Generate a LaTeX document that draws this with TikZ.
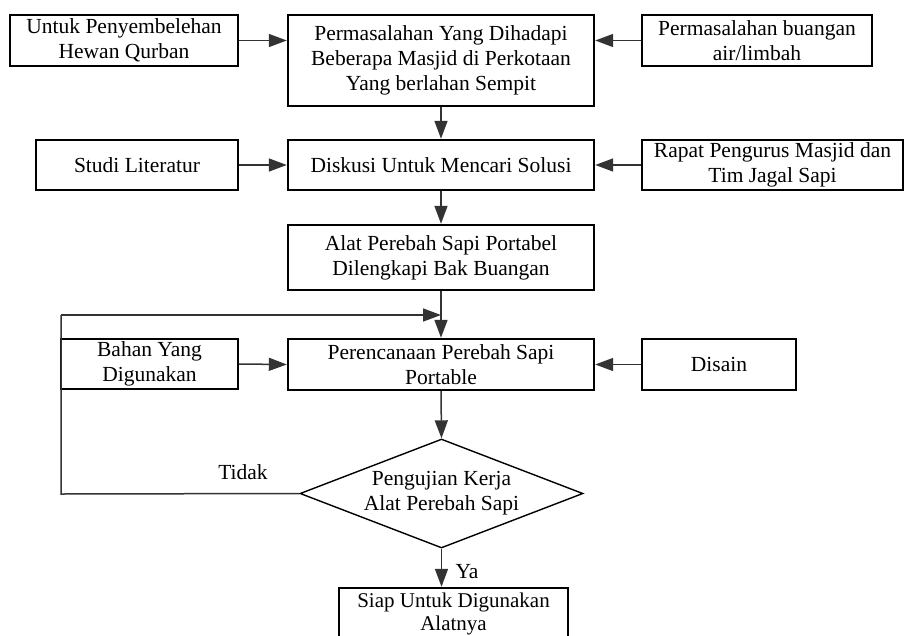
\documentclass[tikz,border=0pt]{standalone}
\usepackage{fontspec}
\setmainfont{Liberation Serif}
\usetikzlibrary{shapes.geometric,arrows.meta}
\begin{document}
\begin{tikzpicture}[x=1pt,y=-1pt,
  every node/.style={font=\fontsize{21.5}{25}\selectfont, align=center, inner sep=0pt},
  thinbox/.style={draw, line width=1.4pt, rectangle},
  thickbox/.style={draw, line width=2.4pt, rectangle},
  conn/.style={draw=black!80, line width=1.5pt, -{Triangle[length=18pt,width=13pt]}},
  plain/.style={draw=black!80, line width=1.5pt}]
\useasboundingbox (0,0) rectangle (905,635);
\node[thinbox, minimum width=228pt, minimum height=51pt] (a) at (124,40.5) {Untuk Penyembelehan\\Hewan Qurban};
\node[thickbox, minimum width=306pt, minimum height=91pt] (p1) at (441,60.5) {Permasalahan Yang Dihadapi\\Beberapa Masjid di Perkotaan\\Yang berlahan Sempit};
\node[thinbox, line width=2pt, minimum width=230pt, minimum height=51pt] (r1) at (757,40.5) {Permasalahan buangan\\air/limbah};
\node[thinbox, minimum width=202pt, minimum height=50pt] (s) at (137,165) {Studi Literatur};
\node[thickbox, minimum width=306pt, minimum height=50pt] (d) at (441,165) {Diskusi Untuk Mencari Solusi};
\node[thinbox, line width=2pt, minimum width=261pt, minimum height=50pt] (rp) at (772.5,165) {Rapat Pengurus Masjid dan\\Tim Jagal Sapi};
\node[thickbox, minimum width=306pt, minimum height=65pt] (al) at (441,257.5) {Alat Perebah Sapi Portabel\\Dilengkapi Bak Buangan};
\node[thinbox, minimum width=177pt, minimum height=50pt] (b) at (149.5,364) {Bahan Yang\\Digunakan};
\node[thickbox, minimum width=306pt, minimum height=51pt] (pr) at (441,364.5) {Perencanaan Perebah Sapi\\Portable};
\node[thinbox, line width=2pt, minimum width=154pt, minimum height=51pt] (ds) at (719,364.5) {Disain};
\node[draw, line width=1.4pt, shape=diamond, aspect=2.6, minimum width=283pt, minimum height=109pt] (dia) at (441.5,493.5) {Pengujian Kerja\\Alat Perebah Sapi};
\node[thickbox, minimum width=229pt, minimum height=62pt] (siap) at (453.5,619) {};
\node[font=\fontsize{21}{23}\selectfont] (siaptext) at (453.5,614) {Siap Untuk Digunakan\\Alatnya};
\node (tidak) at (243,472) {Tidak};
\node (ya) at (467,572) {Ya};
\coordinate (fbl) at (61,494);
\coordinate (fbt) at (61,315);
\coordinate (fbj) at (441,315);
\draw[conn] (a.east) -- (p1.west |- a.east);
\draw[conn] (r1.west) -- (p1.east |- r1.west);
\draw[conn] (p1.south) -- (d.north);
\draw[conn] (s.east) -- (d.west);
\draw[conn] (rp.west) -- (d.east);
\draw[conn] (d.south) -- (al.north);
\draw[conn] (al.south) -- (pr.north);
\draw[conn] (b.east) -- (pr.west);
\draw[conn] (ds.west) -- (pr.east);
\draw[conn] (pr.south) -- (dia.north);
\draw[conn] (dia.south) -- (dia.south |- siap.north);
\draw[plain] (dia.west) -- (fbl) -- (fbt);
\draw[conn] (fbt) -- (fbj);
\end{tikzpicture}
\end{document}
